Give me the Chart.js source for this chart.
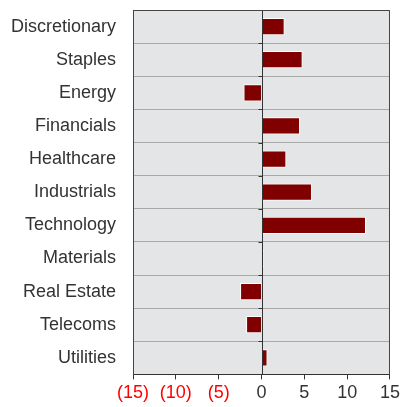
<!DOCTYPE html>
<html>
<head>
<meta charset="utf-8">
<script src="https://cdn.jsdelivr.net/npm/chart.js@4/dist/chart.umd.min.js"></script>
<style>
  html, body { margin: 0; padding: 0; background: #fff; }
  #wrap { width: 403px; height: 407px; }
</style>
</head>
<body>
<div id="wrap"><canvas id="sectorChart"></canvas></div>
<script>
const sectors = ['Discretionary', 'Staples', 'Energy', 'Financials', 'Healthcare', 'Industrials',
    'Technology', 'Materials', 'Real Estate', 'Telecoms', 'Utilities'];
const returns = [2.7, 4.8, -2.1, 4.5, 2.9, 5.9, 12.2, 0.3, -2.5, -1.8, 0.7];
const xTicks = [-15, -10, -5, 0, 5, 10, 15];

// grey panel, frame and the little ticks on the zero line
const panel = {
    id: 'panel',
    beforeDraw(chart) {
        const a = chart.chartArea, c = chart.ctx;
        c.save();
        c.fillStyle = '#e4e5e7';
        c.fillRect(a.left, a.top, a.right - a.left, a.bottom - a.top);
        c.restore();
    },
    afterDatasetsDraw(chart) {
        const a = chart.chartArea, c = chart.ctx;
        const x0 = Math.round(chart.scales.x.getPixelForValue(0)) + 0.5;
        const y = chart.scales.y;
        c.save();
        c.strokeStyle = '#333';
        c.lineWidth = 1;
        c.beginPath();
        c.moveTo(x0, a.top);
        c.lineTo(x0, a.bottom);
        c.stroke();
        for (let i = 1; i < sectors.length; i++) {
            const yy = Math.round((y.getPixelForValue(i - 1) + y.getPixelForValue(i)) / 2) + 0.5;
            c.beginPath();
            c.moveTo(x0 - 4, yy);
            c.lineTo(x0, yy);
            c.stroke();
        }
        c.strokeStyle = '#444';
        c.beginPath();
        c.moveTo(a.left, a.top + 0.5);
        c.lineTo(a.right - 0.5, a.top + 0.5);
        c.lineTo(a.right - 0.5, a.bottom);
        c.stroke();
        c.restore();
    }
};

new Chart(document.getElementById('sectorChart'), {
    type: 'bar',
    data: {
        labels: sectors,
        datasets: [{
            data: returns,
            backgroundColor: '#800000',
            borderColor: '#ffffff',
            borderWidth: 1,
            borderSkipped: 'start',
            barPercentage: 0.52,
            categoryPercentage: 1
        }]
    },
    options: {
        indexAxis: 'y',
        responsive: true,
        maintainAspectRatio: false,
        animation: false,
        layout: { padding: { top: 10, right: 9, left: 8, bottom: 0 } },
        plugins: { legend: { display: false }, tooltip: { enabled: false } },
        scales: {
            x: {
                min: -15,
                max: 15,
                afterBuildTicks: s => { s.ticks = xTicks.map(v => ({ value: v })); },
                grid: {
                    color: 'rgba(0,0,0,0)',
                    tickColor: '#333',
                    tickLength: 5,
                    lineWidth: 1
                },
                border: { color: '#333', width: 1 },
                ticks: {
                    font: { family: 'Liberation Sans', size: 18 },
                    color: ctx => ctx.tick.value < 0 ? '#ff0000' : '#333',
                    padding: 3,
                    maxRotation: 0,
                    callback: v => v < 0 ? '(' + (-v) + ')' : String(v)
                }
            },
            y: {
                afterFit: s => { s.paddingTop = 0; s.paddingBottom = 0; },
                grid: {
                    offset: true,
                    color: '#a9a9a9',
                    lineWidth: 1,
                    drawTicks: true,
                    tickLength: 14,
                    tickColor: 'rgba(0,0,0,0)'
                },
                border: { color: '#444', width: 1 },
                ticks: {
                    font: { family: 'Liberation Sans', size: 18 },
                    color: '#333',
                    padding: 3
                }
            }
        }
    },
    plugins: [panel]
});
</script>
</body>
</html>
